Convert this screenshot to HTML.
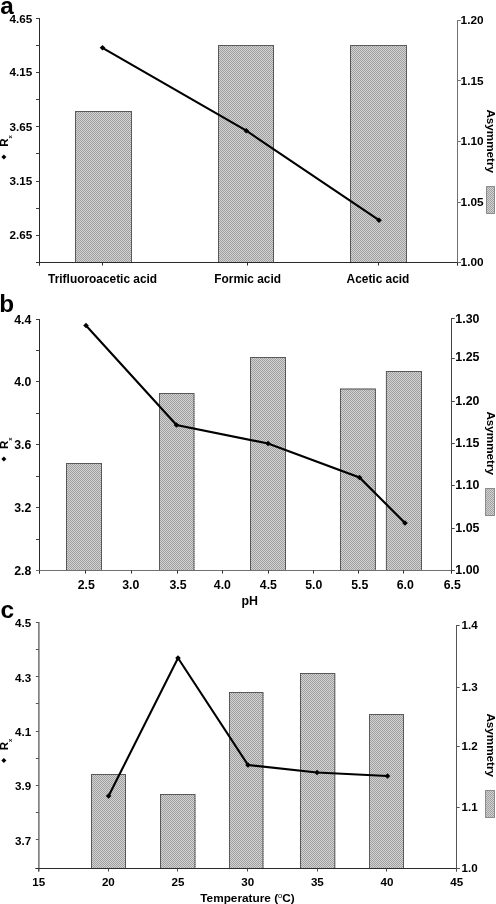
<!DOCTYPE html>
<html><head><meta charset="utf-8"><title>Figure</title>
<style>
html,body{margin:0;padding:0;background:#fff;}
body{width:496px;height:904px;overflow:hidden;}
svg{display:block;filter:grayscale(1);}
text{font-family:'Liberation Sans', sans-serif;font-weight:bold;fill:#000;}
</style></head><body>
<svg width="496" height="904" viewBox="0 0 496 904">
<defs>
<pattern id="ht" width="2" height="2" patternUnits="userSpaceOnUse">
<rect width="2" height="2" fill="#d2d2d2"/>
<rect x="0" y="0" width="1" height="1" fill="#a0a0a0"/>
<rect x="1" y="1" width="1" height="1" fill="#a0a0a0"/>
</pattern>
</defs>
<rect width="496" height="904" fill="#fff"/>
<rect x="75.5" y="111.5" width="56.00" height="151.00" fill="url(#ht)" stroke="#6a6a6a" stroke-width="1"/>
<rect x="75.5" y="111.5" width="56.00" height="151.00" fill="none" stroke="#222" stroke-width="1" stroke-dasharray="1 1" opacity="0.45"/>
<rect x="218.5" y="45.5" width="55.00" height="217.00" fill="url(#ht)" stroke="#6a6a6a" stroke-width="1"/>
<rect x="218.5" y="45.5" width="55.00" height="217.00" fill="none" stroke="#222" stroke-width="1" stroke-dasharray="1 1" opacity="0.45"/>
<rect x="350.5" y="45.5" width="56.00" height="217.00" fill="url(#ht)" stroke="#6a6a6a" stroke-width="1"/>
<rect x="350.5" y="45.5" width="56.00" height="217.00" fill="none" stroke="#222" stroke-width="1" stroke-dasharray="1 1" opacity="0.45"/>
<line x1="39.5" y1="18.0" x2="39.5" y2="265.5" stroke="#2a2a2a" stroke-width="1"/>
<line x1="36.0" y1="18.5" x2="39.5" y2="18.5" stroke="#3a3a3a" stroke-width="1"/>
<line x1="36.0" y1="45.5" x2="39.5" y2="45.5" stroke="#3a3a3a" stroke-width="1"/>
<line x1="36.0" y1="72.5" x2="39.5" y2="72.5" stroke="#3a3a3a" stroke-width="1"/>
<line x1="36.0" y1="99.5" x2="39.5" y2="99.5" stroke="#3a3a3a" stroke-width="1"/>
<line x1="36.0" y1="126.5" x2="39.5" y2="126.5" stroke="#3a3a3a" stroke-width="1"/>
<line x1="36.0" y1="153.5" x2="39.5" y2="153.5" stroke="#3a3a3a" stroke-width="1"/>
<line x1="36.0" y1="181.5" x2="39.5" y2="181.5" stroke="#3a3a3a" stroke-width="1"/>
<line x1="36.0" y1="208.5" x2="39.5" y2="208.5" stroke="#3a3a3a" stroke-width="1"/>
<line x1="36.0" y1="235.5" x2="39.5" y2="235.5" stroke="#3a3a3a" stroke-width="1"/>
<line x1="36.0" y1="262.5" x2="39.5" y2="262.5" stroke="#3a3a3a" stroke-width="1"/>
<text x="32.2" y="22.7" font-size="11.7" text-anchor="end" >4.65</text>
<text x="32.2" y="76.4" font-size="11.7" text-anchor="end" >4.15</text>
<text x="32.2" y="130.7" font-size="11.7" text-anchor="end" >3.65</text>
<text x="32.2" y="185.05" font-size="11.7" text-anchor="end" >3.15</text>
<text x="32.2" y="239.05" font-size="11.7" text-anchor="end" >2.65</text>
<line x1="36.0" y1="262.5" x2="460.7" y2="262.5" stroke="#2a2a2a" stroke-width="1"/>
<line x1="457.5" y1="20.0" x2="457.5" y2="265.5" stroke="#707070" stroke-width="1"/>
<line x1="457.5" y1="20.5" x2="460.7" y2="20.5" stroke="#707070" stroke-width="1"/>
<text x="460.6" y="24.1" font-size="11.8" text-anchor="start" >1.20</text>
<line x1="457.5" y1="80.5" x2="460.7" y2="80.5" stroke="#707070" stroke-width="1"/>
<text x="460.6" y="84.6" font-size="11.8" text-anchor="start" >1.15</text>
<line x1="457.5" y1="141.5" x2="460.7" y2="141.5" stroke="#707070" stroke-width="1"/>
<text x="460.6" y="145.1" font-size="11.8" text-anchor="start" >1.10</text>
<line x1="457.5" y1="202.5" x2="460.7" y2="202.5" stroke="#707070" stroke-width="1"/>
<text x="460.6" y="205.6" font-size="11.8" text-anchor="start" >1.05</text>
<line x1="457.5" y1="262.5" x2="460.7" y2="262.5" stroke="#707070" stroke-width="1"/>
<text x="460.6" y="266.1" font-size="11.8" text-anchor="start" >1.00</text>
<line x1="39.5" y1="262.5" x2="39.5" y2="265.5" stroke="#2a2a2a" stroke-width="1"/>
<line x1="102.5" y1="262.5" x2="102.5" y2="265.5" stroke="#2a2a2a" stroke-width="1"/>
<line x1="247.5" y1="262.5" x2="247.5" y2="265.5" stroke="#2a2a2a" stroke-width="1"/>
<line x1="378.5" y1="262.5" x2="378.5" y2="265.5" stroke="#2a2a2a" stroke-width="1"/>
<line x1="457.5" y1="262.5" x2="457.5" y2="265.5" stroke="#2a2a2a" stroke-width="1"/>
<text x="102.6" y="282.9" font-size="11.9" text-anchor="middle" >Trifluoroacetic acid</text>
<text x="247.7" y="282.9" font-size="11.9" text-anchor="middle" >Formic acid</text>
<text x="378" y="282.9" font-size="11.9" text-anchor="middle" >Acetic acid</text>
<polyline points="102.5,47.8 246.3,130.7 379,220.2" fill="none" stroke="#000" stroke-width="2.1" stroke-linejoin="miter"/>
<path d="M99.7,47.8 L102.5,45.0 L105.3,47.8 L102.5,50.599999999999994Z" fill="#000"/>
<path d="M243.5,130.7 L246.3,127.89999999999999 L249.10000000000002,130.7 L246.3,133.5Z" fill="#000"/>
<path d="M376.2,220.2 L379,217.39999999999998 L381.8,220.2 L379,223.0Z" fill="#000"/>
<text x="0.2" y="13.7" font-size="24.3" text-anchor="start" >a</text>
<text transform="translate(8.0,146.8) rotate(-90)" font-size="11.5">R<tspan font-size="6" dy="3.5">x</tspan></text>
<path d="M1.4,156.9 L3.9,154.4 L6.4,156.9 L3.9,159.4Z" fill="#000"/>
<text transform="translate(487.2,109.4) rotate(90)" font-size="11.7">Asymmetry</text>
<rect x="486.5" y="186.5" width="8.00" height="27.00" fill="url(#ht)" stroke="#3a3a3a" stroke-width="1" stroke-dasharray="1 1"/>
<rect x="66.5" y="463.5" width="35.00" height="107.00" fill="url(#ht)" stroke="#6a6a6a" stroke-width="1"/>
<rect x="66.5" y="463.5" width="35.00" height="107.00" fill="none" stroke="#222" stroke-width="1" stroke-dasharray="1 1" opacity="0.45"/>
<rect x="159.5" y="393.5" width="34.50" height="177.00" fill="url(#ht)" stroke="#6a6a6a" stroke-width="1"/>
<rect x="159.5" y="393.5" width="34.50" height="177.00" fill="none" stroke="#222" stroke-width="1" stroke-dasharray="1 1" opacity="0.45"/>
<rect x="250.5" y="357.5" width="35.00" height="213.00" fill="url(#ht)" stroke="#6a6a6a" stroke-width="1"/>
<rect x="250.5" y="357.5" width="35.00" height="213.00" fill="none" stroke="#222" stroke-width="1" stroke-dasharray="1 1" opacity="0.45"/>
<rect x="340.5" y="389" width="34.90" height="181.50" fill="url(#ht)" stroke="#6a6a6a" stroke-width="1"/>
<rect x="340.5" y="389" width="34.90" height="181.50" fill="none" stroke="#222" stroke-width="1" stroke-dasharray="1 1" opacity="0.45"/>
<rect x="386.4" y="371.5" width="35.10" height="199.00" fill="url(#ht)" stroke="#6a6a6a" stroke-width="1"/>
<rect x="386.4" y="371.5" width="35.10" height="199.00" fill="none" stroke="#222" stroke-width="1" stroke-dasharray="1 1" opacity="0.45"/>
<line x1="39.5" y1="319.0" x2="39.5" y2="573.5" stroke="#2a2a2a" stroke-width="1"/>
<line x1="36.0" y1="319.5" x2="39.5" y2="319.5" stroke="#3a3a3a" stroke-width="1"/>
<line x1="36.0" y1="350.5" x2="39.5" y2="350.5" stroke="#3a3a3a" stroke-width="1"/>
<line x1="36.0" y1="381.5" x2="39.5" y2="381.5" stroke="#3a3a3a" stroke-width="1"/>
<line x1="36.0" y1="413.5" x2="39.5" y2="413.5" stroke="#3a3a3a" stroke-width="1"/>
<line x1="36.0" y1="444.5" x2="39.5" y2="444.5" stroke="#3a3a3a" stroke-width="1"/>
<line x1="36.0" y1="476.5" x2="39.5" y2="476.5" stroke="#3a3a3a" stroke-width="1"/>
<line x1="36.0" y1="507.5" x2="39.5" y2="507.5" stroke="#3a3a3a" stroke-width="1"/>
<line x1="36.0" y1="539.5" x2="39.5" y2="539.5" stroke="#3a3a3a" stroke-width="1"/>
<line x1="36.0" y1="570.5" x2="39.5" y2="570.5" stroke="#3a3a3a" stroke-width="1"/>
<text x="31.3" y="323.7" font-size="12.3" text-anchor="end" >4.4</text>
<text x="31.3" y="385.7" font-size="12.3" text-anchor="end" >4.0</text>
<text x="31.3" y="448.7" font-size="12.3" text-anchor="end" >3.6</text>
<text x="31.3" y="511.7" font-size="12.3" text-anchor="end" >3.2</text>
<text x="31.3" y="574.7" font-size="12.3" text-anchor="end" >2.8</text>
<line x1="36.0" y1="570.5" x2="454.7" y2="570.5" stroke="#707070" stroke-width="1"/>
<line x1="451.5" y1="318.0" x2="451.5" y2="573.5" stroke="#444" stroke-width="1"/>
<line x1="451.5" y1="318.5" x2="454.7" y2="318.5" stroke="#444" stroke-width="1"/>
<text x="455.3" y="322.8" font-size="12.4" text-anchor="start" >1.30</text>
<line x1="451.5" y1="358.5" x2="454.7" y2="358.5" stroke="#444" stroke-width="1"/>
<text x="455.3" y="361.4" font-size="12.4" text-anchor="start" >1.25</text>
<line x1="451.5" y1="401.5" x2="454.7" y2="401.5" stroke="#444" stroke-width="1"/>
<text x="455.3" y="405.1" font-size="12.4" text-anchor="start" >1.20</text>
<line x1="451.5" y1="443.5" x2="454.7" y2="443.5" stroke="#444" stroke-width="1"/>
<text x="455.3" y="447.2" font-size="12.4" text-anchor="start" >1.15</text>
<line x1="451.5" y1="485.5" x2="454.7" y2="485.5" stroke="#444" stroke-width="1"/>
<text x="455.3" y="488.8" font-size="12.4" text-anchor="start" >1.10</text>
<line x1="451.5" y1="528.5" x2="454.7" y2="528.5" stroke="#444" stroke-width="1"/>
<text x="455.3" y="531.5" font-size="12.4" text-anchor="start" >1.05</text>
<line x1="451.5" y1="570.5" x2="454.7" y2="570.5" stroke="#444" stroke-width="1"/>
<text x="455.3" y="573.5" font-size="12.4" text-anchor="start" >1.00</text>
<line x1="39.5" y1="570.5" x2="39.5" y2="573.5" stroke="#2a2a2a" stroke-width="1"/>
<line x1="85.5" y1="570.5" x2="85.5" y2="573.5" stroke="#2a2a2a" stroke-width="1"/>
<line x1="131.5" y1="570.5" x2="131.5" y2="573.5" stroke="#2a2a2a" stroke-width="1"/>
<line x1="177.5" y1="570.5" x2="177.5" y2="573.5" stroke="#2a2a2a" stroke-width="1"/>
<line x1="222.5" y1="570.5" x2="222.5" y2="573.5" stroke="#2a2a2a" stroke-width="1"/>
<line x1="268.5" y1="570.5" x2="268.5" y2="573.5" stroke="#2a2a2a" stroke-width="1"/>
<line x1="313.5" y1="570.5" x2="313.5" y2="573.5" stroke="#2a2a2a" stroke-width="1"/>
<line x1="358.5" y1="570.5" x2="358.5" y2="573.5" stroke="#2a2a2a" stroke-width="1"/>
<line x1="403.5" y1="570.5" x2="403.5" y2="573.5" stroke="#2a2a2a" stroke-width="1"/>
<line x1="451.5" y1="570.5" x2="451.5" y2="573.5" stroke="#2a2a2a" stroke-width="1"/>
<text x="86.3" y="588.5" font-size="12.3" text-anchor="middle" >2.5</text>
<text x="130.7" y="588.5" font-size="12.3" text-anchor="middle" >3.0</text>
<text x="178.0" y="588.5" font-size="12.3" text-anchor="middle" >3.5</text>
<text x="222.4" y="588.5" font-size="12.3" text-anchor="middle" >4.0</text>
<text x="268.4" y="588.5" font-size="12.3" text-anchor="middle" >4.5</text>
<text x="313.7" y="588.5" font-size="12.3" text-anchor="middle" >5.0</text>
<text x="359.7" y="588.5" font-size="12.3" text-anchor="middle" >5.5</text>
<text x="405.2" y="588.5" font-size="12.3" text-anchor="middle" >6.0</text>
<text x="452.3" y="588.5" font-size="12.3" text-anchor="middle" >6.5</text>
<polyline points="86,325.5 176.5,425 268,443.5 359.5,477.5 405,523" fill="none" stroke="#000" stroke-width="2.1" stroke-linejoin="miter"/>
<path d="M83.2,325.5 L86,322.7 L88.8,325.5 L86,328.3Z" fill="#000"/>
<path d="M173.7,425 L176.5,422.2 L179.3,425 L176.5,427.8Z" fill="#000"/>
<path d="M265.2,443.5 L268,440.7 L270.8,443.5 L268,446.3Z" fill="#000"/>
<path d="M356.7,477.5 L359.5,474.7 L362.3,477.5 L359.5,480.3Z" fill="#000"/>
<path d="M402.2,523 L405,520.2 L407.8,523 L405,525.8Z" fill="#000"/>
<text x="-0.8" y="311.8" font-size="24.3" text-anchor="start" >b</text>
<text x="249.7" y="604.7" font-size="12.4" text-anchor="middle" >pH</text>
<text transform="translate(8.0,449.0) rotate(-90)" font-size="11.5">R<tspan font-size="6" dy="3.5">x</tspan></text>
<path d="M1.4,459.09999999999997 L3.9,456.59999999999997 L6.4,459.09999999999997 L3.9,461.59999999999997Z" fill="#000"/>
<text transform="translate(487.2,411.4) rotate(90)" font-size="11.7">Asymmetry</text>
<rect x="485.5" y="488.5" width="9.00" height="27.00" fill="url(#ht)" stroke="#3a3a3a" stroke-width="1" stroke-dasharray="1 1"/>
<rect x="91.5" y="774.5" width="34.00" height="94.00" fill="url(#ht)" stroke="#6a6a6a" stroke-width="1"/>
<rect x="91.5" y="774.5" width="34.00" height="94.00" fill="none" stroke="#222" stroke-width="1" stroke-dasharray="1 1" opacity="0.45"/>
<rect x="160.5" y="794.5" width="34.50" height="74.00" fill="url(#ht)" stroke="#6a6a6a" stroke-width="1"/>
<rect x="160.5" y="794.5" width="34.50" height="74.00" fill="none" stroke="#222" stroke-width="1" stroke-dasharray="1 1" opacity="0.45"/>
<rect x="229.5" y="692.5" width="33.50" height="176.00" fill="url(#ht)" stroke="#6a6a6a" stroke-width="1"/>
<rect x="229.5" y="692.5" width="33.50" height="176.00" fill="none" stroke="#222" stroke-width="1" stroke-dasharray="1 1" opacity="0.45"/>
<rect x="300.5" y="673.5" width="34.30" height="195.00" fill="url(#ht)" stroke="#6a6a6a" stroke-width="1"/>
<rect x="300.5" y="673.5" width="34.30" height="195.00" fill="none" stroke="#222" stroke-width="1" stroke-dasharray="1 1" opacity="0.45"/>
<rect x="369.5" y="714.5" width="34.00" height="154.00" fill="url(#ht)" stroke="#6a6a6a" stroke-width="1"/>
<rect x="369.5" y="714.5" width="34.00" height="154.00" fill="none" stroke="#222" stroke-width="1" stroke-dasharray="1 1" opacity="0.45"/>
<line x1="38.9" y1="622.0" x2="38.9" y2="871.5" stroke="#4c4c4c" stroke-width="1.2"/>
<line x1="35.9" y1="622.5" x2="38.9" y2="622.5" stroke="#555" stroke-width="1"/>
<line x1="35.9" y1="649.5" x2="38.9" y2="649.5" stroke="#555" stroke-width="1"/>
<line x1="35.9" y1="676.5" x2="38.9" y2="676.5" stroke="#555" stroke-width="1"/>
<line x1="35.9" y1="703.5" x2="38.9" y2="703.5" stroke="#555" stroke-width="1"/>
<line x1="35.9" y1="731.5" x2="38.9" y2="731.5" stroke="#555" stroke-width="1"/>
<line x1="35.9" y1="758.5" x2="38.9" y2="758.5" stroke="#555" stroke-width="1"/>
<line x1="35.9" y1="785.5" x2="38.9" y2="785.5" stroke="#555" stroke-width="1"/>
<line x1="35.9" y1="812.5" x2="38.9" y2="812.5" stroke="#555" stroke-width="1"/>
<line x1="35.9" y1="839.5" x2="38.9" y2="839.5" stroke="#555" stroke-width="1"/>
<line x1="35.9" y1="868.5" x2="38.9" y2="868.5" stroke="#555" stroke-width="1"/>
<text x="31.1" y="627.4" font-size="11.6" text-anchor="end" >4.5</text>
<text x="31.1" y="681.5" font-size="11.6" text-anchor="end" >4.3</text>
<text x="31.1" y="735.7" font-size="11.6" text-anchor="end" >4.1</text>
<text x="31.1" y="790.1" font-size="11.6" text-anchor="end" >3.9</text>
<text x="31.1" y="844.5" font-size="11.6" text-anchor="end" >3.7</text>
<line x1="35.4" y1="868.5" x2="459.7" y2="868.5" stroke="#2a2a2a" stroke-width="1"/>
<line x1="456.5" y1="625.0" x2="456.5" y2="871.5" stroke="#555" stroke-width="1"/>
<line x1="456.5" y1="625.5" x2="459.7" y2="625.5" stroke="#555" stroke-width="1"/>
<text x="461.5" y="629.2" font-size="11.6" text-anchor="start" >1.4</text>
<line x1="456.5" y1="687.5" x2="459.7" y2="687.5" stroke="#555" stroke-width="1"/>
<text x="461.5" y="690.9" font-size="11.6" text-anchor="start" >1.3</text>
<line x1="456.5" y1="746.5" x2="459.7" y2="746.5" stroke="#555" stroke-width="1"/>
<text x="461.5" y="750.3" font-size="11.6" text-anchor="start" >1.2</text>
<line x1="456.5" y1="807.5" x2="459.7" y2="807.5" stroke="#555" stroke-width="1"/>
<text x="461.5" y="810.8" font-size="11.6" text-anchor="start" >1.1</text>
<line x1="456.5" y1="868.5" x2="459.7" y2="868.5" stroke="#555" stroke-width="1"/>
<text x="461.5" y="872.2" font-size="11.6" text-anchor="start" >1.0</text>
<line x1="38.5" y1="868.5" x2="38.5" y2="871.5" stroke="#4c4c4c" stroke-width="1"/>
<line x1="108.5" y1="868.5" x2="108.5" y2="871.5" stroke="#4c4c4c" stroke-width="1"/>
<line x1="177.5" y1="868.5" x2="177.5" y2="871.5" stroke="#4c4c4c" stroke-width="1"/>
<line x1="247.5" y1="868.5" x2="247.5" y2="871.5" stroke="#4c4c4c" stroke-width="1"/>
<line x1="317.5" y1="868.5" x2="317.5" y2="871.5" stroke="#4c4c4c" stroke-width="1"/>
<line x1="386.5" y1="868.5" x2="386.5" y2="871.5" stroke="#4c4c4c" stroke-width="1"/>
<line x1="456.5" y1="868.5" x2="456.5" y2="871.5" stroke="#4c4c4c" stroke-width="1"/>
<text x="38.7" y="885.75" font-size="11.6" text-anchor="middle" >15</text>
<text x="108.37" y="885.75" font-size="11.6" text-anchor="middle" >20</text>
<text x="178.04" y="885.75" font-size="11.6" text-anchor="middle" >25</text>
<text x="247.71" y="885.75" font-size="11.6" text-anchor="middle" >30</text>
<text x="317.38" y="885.75" font-size="11.6" text-anchor="middle" >35</text>
<text x="387.05" y="885.75" font-size="11.6" text-anchor="middle" >40</text>
<text x="456.72" y="885.75" font-size="11.6" text-anchor="middle" >45</text>
<polyline points="108.6,796 178,658 248,765 317,772.5 387.5,776" fill="none" stroke="#000" stroke-width="2.1" stroke-linejoin="miter"/>
<path d="M105.8,796 L108.6,793.2 L111.39999999999999,796 L108.6,798.8Z" fill="#000"/>
<path d="M175.2,658 L178,655.2 L180.8,658 L178,660.8Z" fill="#000"/>
<path d="M245.2,765 L248,762.2 L250.8,765 L248,767.8Z" fill="#000"/>
<path d="M314.2,772.5 L317,769.7 L319.8,772.5 L317,775.3Z" fill="#000"/>
<path d="M384.7,776 L387.5,773.2 L390.3,776 L387.5,778.8Z" fill="#000"/>
<text x="0.5" y="617.8" font-size="24.5" text-anchor="start" >c</text>
<text x="247.5" y="901.5" font-size="11.8" text-anchor="middle" >Temperature (<tspan font-size="7.5" font-weight="normal" dy="-3.5">o</tspan><tspan dy="3.5">C)</tspan></text>
<text transform="translate(8.0,750.3) rotate(-90)" font-size="11.5">R<tspan font-size="6" dy="3.5">x</tspan></text>
<path d="M1.4,760.4 L3.9,757.9 L6.4,760.4 L3.9,762.9Z" fill="#000"/>
<text transform="translate(487.2,713.4000000000001) rotate(90)" font-size="11.7">Asymmetry</text>
<rect x="485.5" y="790.5" width="9.00" height="27.00" fill="url(#ht)" stroke="#3a3a3a" stroke-width="1" stroke-dasharray="1 1"/>
</svg>
</body></html>
